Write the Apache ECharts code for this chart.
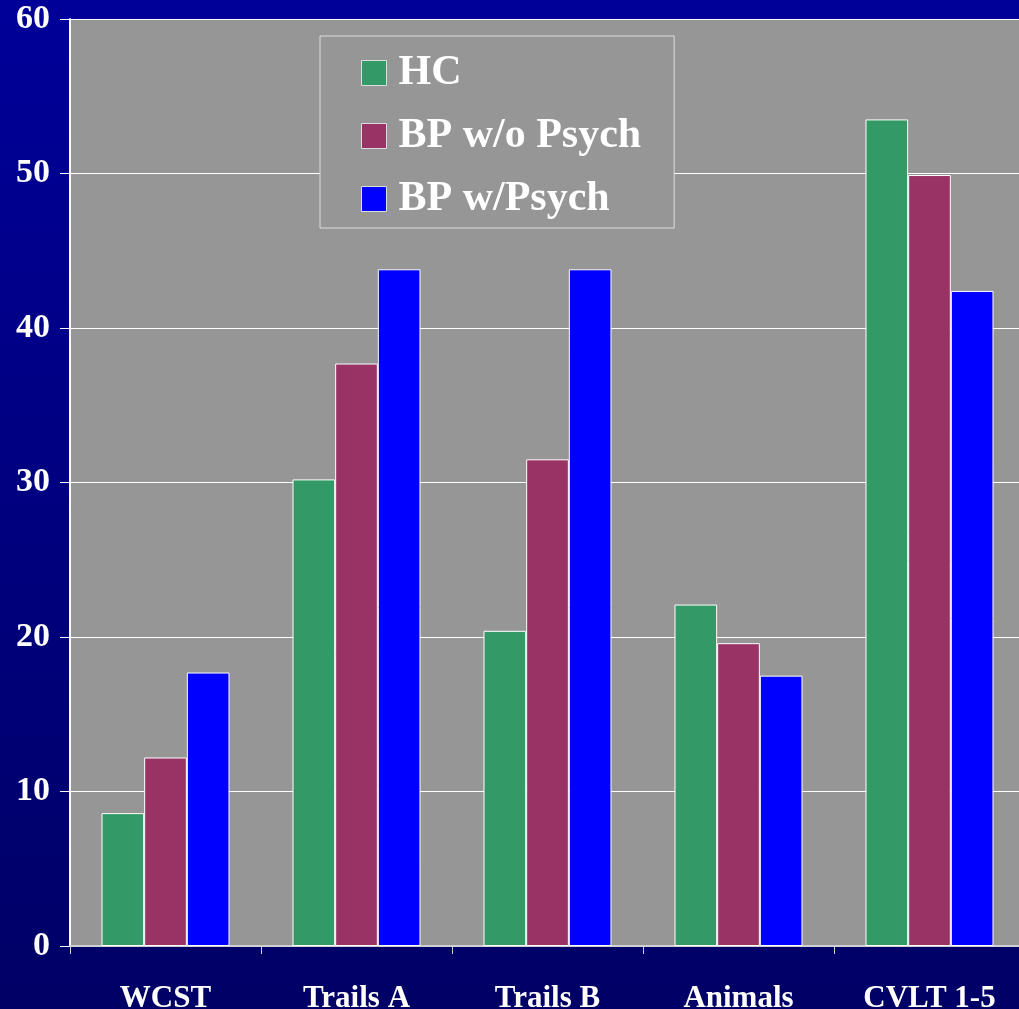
<!DOCTYPE html>
<html>
<head>
<meta charset="utf-8">
<script src="https://cdn.jsdelivr.net/npm/echarts@6/dist/echarts.min.js"></script>
<style>
  html, body { margin: 0; padding: 0; }
  #chart { width: 1019px; height: 1009px; }
</style>
</head>
<body>
<div id="chart"></div>
<script>
// Neuropsychological test scores by group
const categories = ['WCST', 'Trails A', 'Trails B', 'Animals', 'CVLT 1-5'];
const seriesNames = ['HC', 'BP w/o Psych', 'BP w/Psych'];
const hcValues = [8.6, 30.2, 20.4, 22.1, 53.5];
const bpNoPsychValues = [12.2, 37.7, 31.5, 19.6, 49.9];
const bpPsychValues = [17.7, 43.8, 43.8, 17.5, 42.4];
const yTicks = [0, 10, 20, 30, 40, 50, 60];

const colors = ['#339966', '#993366', '#0000ff'];
const serifBold = { fontFamily: '"Liberation Serif", "DejaVu Serif", serif', fontWeight: 'bold', color: '#ffffff' };

const chart = echarts.init(document.getElementById('chart'));

function barSeries(name, values, color) {
  return {
    name: name,
    type: 'bar',
    data: values,
    barGap: '0%',
    barCategoryGap: '33%',
    itemStyle: { color: color, borderColor: '#ffffff', borderWidth: 1 }
  };
}

chart.setOption({
  backgroundColor: {
    type: 'linear', x: 0, y: 0, x2: 0, y2: 1,
    colorStops: [{ offset: 0, color: '#000099' }, { offset: 1, color: '#000066' }]
  },
  animation: false,
  grid: {
    left: 70, top: 19, bottom: 63, width: 955,
    outerBoundsMode: 'none',
    show: true, backgroundColor: '#969696', borderWidth: 0
  },
  legend: {
    orient: 'vertical',
    left: 320, top: 36,
    padding: [16, 33, 8, 41],
    backgroundColor: '#969696',
    borderColor: '#dddddd', borderWidth: 1,
    itemWidth: 25, itemHeight: 25, itemGap: 21,
    icon: 'rect',
    data: seriesNames,
    itemStyle: { borderColor: '#dddddd', borderWidth: 1 },
    textStyle: Object.assign({ fontSize: 42, lineHeight: 40, padding: [0, 0, 0, 7] }, serifBold)
  },
  xAxis: {
    type: 'category',
    data: categories,
    axisLine: { show: true, lineStyle: { color: '#d0d0d0', width: 2 } },
    axisTick: { show: true, length: 8, lineStyle: { color: '#d0d0d0' } },
    axisLabel: Object.assign({ fontSize: 31, margin: 37 }, serifBold),
    splitLine: { show: false }
  },
  yAxis: {
    type: 'value',
    min: yTicks[0], max: yTicks[yTicks.length - 1], interval: 10,
    axisLine: { show: true, lineStyle: { color: '#ffffff', width: 2 } },
    axisTick: { show: true, length: 10, inside: false, lineStyle: { color: '#ffffff' } },
    axisLabel: Object.assign({ fontSize: 34, margin: 20, padding: [5, 0, 0, 0] }, serifBold),
    splitLine: { show: true, lineStyle: { color: '#ffffff', width: 1 } }
  },
  series: [
    barSeries(seriesNames[0], hcValues, colors[0]),
    barSeries(seriesNames[1], bpNoPsychValues, colors[1]),
    barSeries(seriesNames[2], bpPsychValues, colors[2])
  ]
});
</script>
</body>
</html>
